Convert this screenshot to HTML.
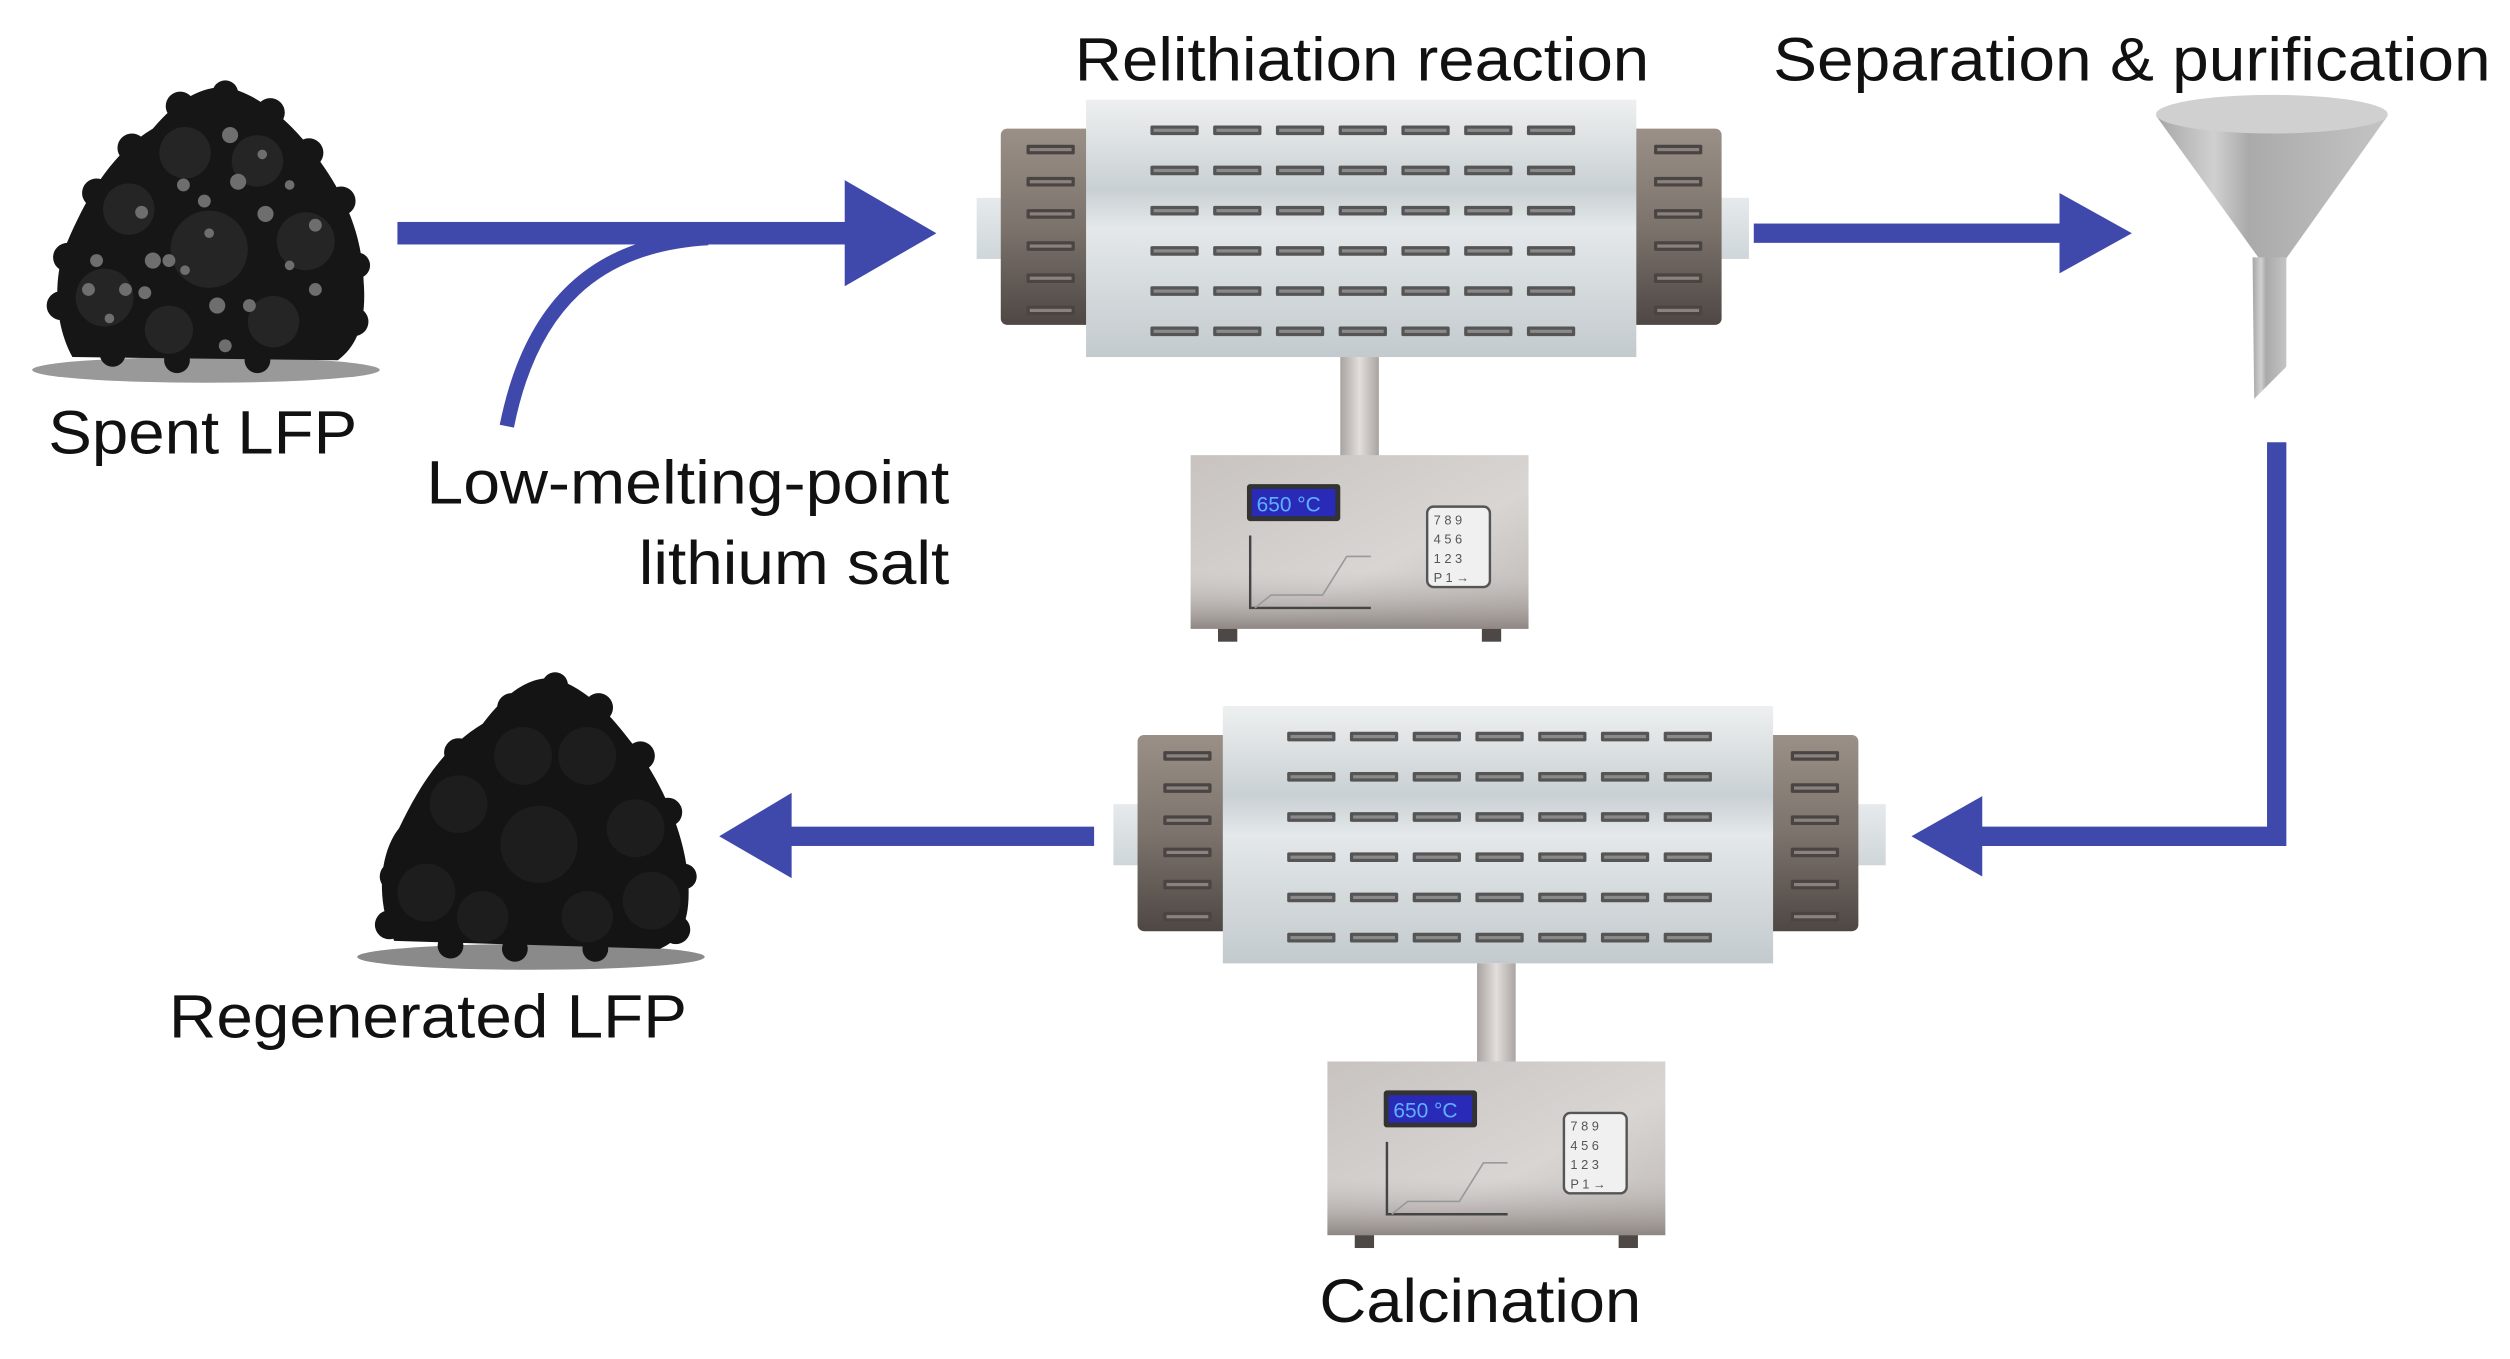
<!DOCTYPE html>
<html><head><meta charset="utf-8"><style>
html,body{margin:0;padding:0;background:#fff}
svg{display:block}
text{font-family:"Liberation Sans",Arial,sans-serif;fill:#111}
</style></head><body>
<svg width="2510" height="1359" viewBox="0 0 1560 845" preserveAspectRatio="none" xmlns="http://www.w3.org/2000/svg" font-family="Liberation Sans, Arial, sans-serif">
<defs>
<linearGradient id="body" x1="0" y1="0" x2="0" y2="1">
<stop offset="0" stop-color="#eef0f0"/><stop offset="0.35" stop-color="#c9d0d3"/><stop offset="0.5" stop-color="#e4e8ea"/><stop offset="1" stop-color="#c3cacd"/></linearGradient>
<linearGradient id="cap" x1="0" y1="0" x2="0" y2="1">
<stop offset="0" stop-color="#9a9087"/><stop offset="0.5" stop-color="#7c736c"/><stop offset="1" stop-color="#4e4744"/></linearGradient>
<linearGradient id="tube" x1="0" y1="0" x2="0" y2="1">
<stop offset="0" stop-color="#e6eaec"/><stop offset="1" stop-color="#cfd6d9"/></linearGradient>
<linearGradient id="stem" x1="0" y1="0" x2="1" y2="0">
<stop offset="0" stop-color="#a9a3a0"/><stop offset="0.5" stop-color="#e2dedc"/><stop offset="1" stop-color="#aaa4a1"/></linearGradient>
<linearGradient id="box" x1="0" y1="0" x2="1" y2="1">
<stop offset="0" stop-color="#c8c3c0"/><stop offset="0.6" stop-color="#d8d5d3"/><stop offset="1" stop-color="#bdb7b4"/></linearGradient>
<linearGradient id="boxb" x1="0" y1="0" x2="0" y2="1">
<stop offset="0" stop-color="#c2bcb9" stop-opacity="0"/><stop offset="1" stop-color="#8e8783"/></linearGradient>
<linearGradient id="fun" x1="0" y1="0" x2="1" y2="0">
<stop offset="0" stop-color="#a6a6a6"/><stop offset="0.25" stop-color="#d0d0d0"/><stop offset="0.4" stop-color="#aaaaaa"/><stop offset="1" stop-color="#c4c4c4"/></linearGradient>
<g id="slot"><rect width="30" height="6" rx="1" fill="#555"/><rect x="2" y="2" width="26" height="2" fill="#8a8a8a"/></g>
<g id="cslot"><rect width="30" height="6" rx="1" fill="#4a4442"/><rect x="2" y="2" width="26" height="2" fill="#8a827e"/></g>
<g id="furnace">
<rect x="607" y="123" width="20" height="38" fill="url(#tube)"/>
<rect x="1066" y="123" width="21" height="38" fill="url(#tube)"/>
<rect x="622" y="80" width="58" height="122" rx="4" fill="url(#cap)"/>
<rect x="1012" y="80" width="58" height="122" rx="4" fill="url(#cap)"/>
<rect x="675" y="62" width="342" height="160" fill="url(#body)"/>
<use href="#cslot" x="638" y="90"/><use href="#cslot" x="638" y="110"/><use href="#cslot" x="638" y="130"/><use href="#cslot" x="638" y="150"/><use href="#cslot" x="638" y="170"/><use href="#cslot" x="638" y="190"/>
<use href="#cslot" x="1028" y="90"/><use href="#cslot" x="1028" y="110"/><use href="#cslot" x="1028" y="130"/><use href="#cslot" x="1028" y="150"/><use href="#cslot" x="1028" y="170"/><use href="#cslot" x="1028" y="190"/>
<g id="row">
<use href="#slot" x="715" y="78"/><use href="#slot" x="754" y="78"/><use href="#slot" x="793" y="78"/><use href="#slot" x="832" y="78"/><use href="#slot" x="871" y="78"/><use href="#slot" x="910" y="78"/><use href="#slot" x="949" y="78"/>
</g>
<use href="#row" y="25"/><use href="#row" y="50"/><use href="#row" y="75"/><use href="#row" y="100"/><use href="#row" y="125"/>
<rect x="833" y="222" width="24" height="62" fill="url(#stem)"/>
<rect x="740" y="283" width="210" height="108" fill="url(#box)"/>
<rect x="740" y="355" width="210" height="36" fill="url(#boxb)"/>
<rect x="757" y="391" width="12" height="8" fill="#4d4846"/>
<rect x="921" y="391" width="12" height="8" fill="#4d4846"/>
<rect x="775" y="301" width="58" height="23" rx="2" fill="#333"/>
<rect x="778" y="304" width="52" height="17" fill="#2a2ab8"/>
<text x="781" y="318" font-size="13" style="fill:#5fb0ff">650 °C</text>
<rect x="887" y="315" width="39" height="50" rx="4" fill="#f0f0f0" stroke="#555" stroke-width="1.5"/>
<text x="891" y="326" font-size="8" style="fill:#555">7 8 9</text>
<text x="891" y="338" font-size="8" style="fill:#555">4 5 6</text>
<text x="891" y="350" font-size="8" style="fill:#555">1 2 3</text>
<text x="891" y="362" font-size="8" style="fill:#555">P 1 →</text>
<path d="M777 333 V378 H852" fill="none" stroke="#444" stroke-width="1.5"/>
<path d="M780 378 L790 370 L822 370 L837 346 L852 346" fill="none" stroke="#999" stroke-width="1"/>
</g>
</defs>

<!-- Spent LFP pile -->
<ellipse cx="128" cy="230" rx="108" ry="8" fill="#999"/>
<path d="M45 222 C33 200 33 170 42 150 C55 120 70 95 95 80 C110 62 125 54 140 54 C160 58 180 75 195 95 C210 115 225 140 226 175 C228 200 222 215 210 224 Z" fill="#161616"/>
<g fill="#161616">
<circle cx="42" cy="160" r="9"/><circle cx="38" cy="190" r="9"/><circle cx="60" cy="120" r="9"/><circle cx="82" cy="92" r="9"/><circle cx="112" cy="66" r="9"/><circle cx="140" cy="58" r="8"/><circle cx="168" cy="70" r="9"/><circle cx="192" cy="95" r="9"/><circle cx="212" cy="125" r="9"/><circle cx="222" cy="165" r="8"/><circle cx="220" cy="200" r="9"/><circle cx="70" cy="220" r="8"/><circle cx="110" cy="224" r="8"/><circle cx="160" cy="224" r="8"/>
</g>
<g fill="#252525">
<circle cx="80" cy="130" r="16"/><circle cx="115" cy="95" r="16"/><circle cx="160" cy="100" r="16"/><circle cx="190" cy="150" r="18"/><circle cx="65" cy="185" r="18"/><circle cx="130" cy="155" r="24"/><circle cx="105" cy="205" r="15"/><circle cx="170" cy="200" r="16"/>
</g>
<g fill="#6e6e6e">
<circle cx="143" cy="84" r="5"/><circle cx="163" cy="96" r="3"/><circle cx="114" cy="115" r="4"/><circle cx="148" cy="113" r="5"/><circle cx="180" cy="115" r="3"/><circle cx="88" cy="132" r="4"/><circle cx="127" cy="125" r="4"/><circle cx="165" cy="133" r="5"/><circle cx="196" cy="140" r="4"/><circle cx="130" cy="145" r="3"/><circle cx="60" cy="162" r="4"/><circle cx="95" cy="162" r="5"/><circle cx="105" cy="162" r="4"/><circle cx="55" cy="180" r="4"/><circle cx="78" cy="180" r="4"/><circle cx="90" cy="182" r="4"/><circle cx="135" cy="190" r="5"/><circle cx="155" cy="190" r="4"/><circle cx="196" cy="180" r="4"/><circle cx="68" cy="198" r="3"/><circle cx="140" cy="215" r="4"/><circle cx="115" cy="168" r="3"/><circle cx="180" cy="165" r="3"/>
</g>
<text x="30" y="282" font-size="38" textLength="192" lengthAdjust="spacingAndGlyphs">Spent LFP</text>

<!-- Arrow 1 -->
<rect x="247" y="138" width="282" height="14" fill="#3f48ab"/>
<path d="M315 265 C330 190 370 152 440 148" fill="none" stroke="#3f48ab" stroke-width="9"/>
<polygon points="525,112 582,145 525,178" fill="#3f48ab"/>
<text x="265" y="313" font-size="38" textLength="325" lengthAdjust="spacingAndGlyphs">Low-melting-point</text>
<text x="397" y="363" font-size="38" textLength="193" lengthAdjust="spacingAndGlyphs">lithium salt</text>

<!-- Furnace 1 -->
<use href="#furnace"/>
<text x="668" y="50" font-size="38" textLength="357" lengthAdjust="spacingAndGlyphs">Relithiation reaction</text>

<!-- Arrow 2 -->
<rect x="1090" y="139" width="192" height="12" fill="#3f48ab"/>
<polygon points="1280,120 1325,145 1280,170" fill="#3f48ab"/>
<text x="1102" y="50" font-size="38" textLength="446" lengthAdjust="spacingAndGlyphs">Separation &amp; purification</text>

<!-- Funnel -->
<polygon points="1340,72 1484,72 1420,162 1405,162" fill="url(#fun)"/>
<ellipse cx="1412" cy="71" rx="72" ry="12" fill="#d0d0d0"/>
<polygon points="1400,160 1421,160 1421,228 1401,248" fill="url(#fun)"/>

<!-- Connector down and left -->
<path d="M1415 275 V520 H1230" fill="none" stroke="#3f48ab" stroke-width="12"/>
<polygon points="1232,495 1188,520 1232,545" fill="#3f48ab"/>

<!-- Furnace 2 -->
<use href="#furnace" x="85" y="377"/>
<text x="820" y="822" font-size="38" textLength="200" lengthAdjust="spacingAndGlyphs">Calcination</text>

<!-- Arrow left -->
<rect x="488" y="514" width="192" height="12" fill="#3f48ab"/>
<polygon points="492,493 447,520 492,546" fill="#3f48ab"/>

<!-- Regenerated pile -->
<ellipse cx="330" cy="595" rx="108" ry="8" fill="#8a8a8a"/>
<path d="M245 585 C233 560 236 530 248 515 C260 490 275 465 300 450 C315 430 330 420 345 422 C365 428 380 445 395 465 C410 485 428 520 428 555 C428 575 422 585 410 590 Z" fill="#141414"/>
<g fill="#141414">
<circle cx="245" cy="545" r="9"/><circle cx="242" cy="575" r="9"/><circle cx="262" cy="510" r="9"/><circle cx="285" cy="468" r="9"/><circle cx="318" cy="440" r="9"/><circle cx="345" cy="426" r="8"/><circle cx="372" cy="440" r="9"/><circle cx="398" cy="470" r="9"/><circle cx="415" cy="505" r="9"/><circle cx="425" cy="545" r="8"/><circle cx="420" cy="578" r="9"/><circle cx="280" cy="588" r="8"/><circle cx="320" cy="590" r="8"/><circle cx="370" cy="590" r="8"/>
</g>
<g fill="#1d1d1d">
<circle cx="285" cy="500" r="18"/><circle cx="325" cy="470" r="18"/><circle cx="365" cy="470" r="18"/><circle cx="395" cy="515" r="18"/><circle cx="265" cy="555" r="18"/><circle cx="405" cy="560" r="18"/><circle cx="335" cy="525" r="24"/><circle cx="300" cy="570" r="16"/><circle cx="365" cy="570" r="16"/>
</g>
<text x="105" y="645" font-size="38" textLength="322" lengthAdjust="spacingAndGlyphs">Regenerated LFP</text>
</svg>
</body></html>
